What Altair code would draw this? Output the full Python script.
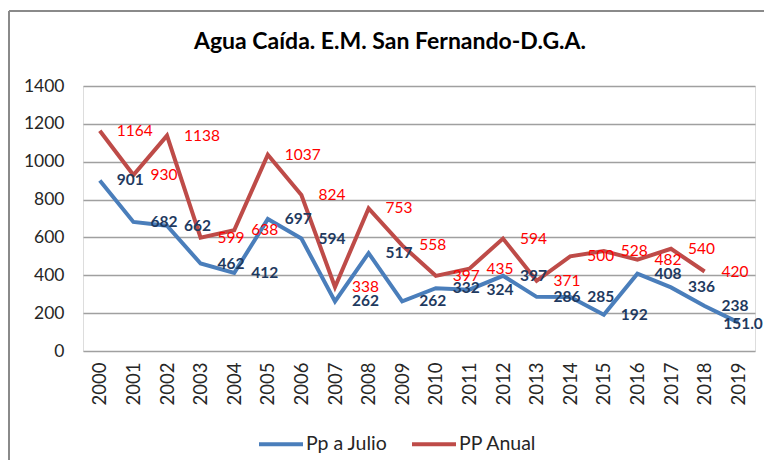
import altair as alt
import pandas as pd

# ---- data ----
years = list(range(2000, 2020))
pp_julio = [901, 682, 662, 462, 412, 697, 594, 262, 517, 262,
            332, 324, 397, 286, 285, 192, 408, 336, 238, 151.0]
pp_julio_labels = ["901", "682", "662", "462", "412", "697", "594", "262", "517", "262",
                   "332", "324", "397", "286", "285", "192", "408", "336", "238", "151.0"]
anual_years = list(range(2000, 2019))
pp_anual = [1164, 930, 1138, 599, 638, 1037, 824, 338, 753, 558,
            397, 435, 594, 371, 500, 528, 482, 540, 420]
series_names = ["Pp a Julio", "PP Anual"]
series_colors = ["#4A7EBB", "#BE4B48"]
y_ticks = [0, 200, 400, 600, 800, 1000, 1200, 1400]
title_text = "Agua Caída. E.M. San Fernando-D.G.A."

julio_df = pd.DataFrame({"year": years, "value": pp_julio, "label": pp_julio_labels,
                         "serie": series_names[0]})
anual_df = pd.DataFrame({"year": anual_years, "value": pp_anual,
                         "label": [str(v) for v in pp_anual], "serie": series_names[1]})
lines_df = pd.concat([julio_df, anual_df], ignore_index=True)
lines_df["order"] = lines_df["serie"].map({s: i for i, s in enumerate(series_names)})

FONT = "Lato"

x_enc = alt.X(
    "year:Q",
    scale=alt.Scale(domain=[1999.5, 2019.5], nice=False, zero=False),
    axis=alt.Axis(values=years, tickCount=len(years), format="d", labelAngle=-90,
                  ticks=False, domain=False, grid=False, labelPadding=11,
                  labelFontSize=18.5, labelFont=FONT, labelColor="#262626",
                  labelOverlap=False, labelFlush=False),
    title=None,
)
y_enc = alt.Y(
    "value:Q",
    scale=alt.Scale(domain=[0, 1400], nice=False),
    axis=alt.Axis(values=y_ticks, tickCount=len(y_ticks), format="d", ticks=False,
                  domain=False, labelPadding=19, labelFontSize=17.5, labelFont=FONT,
                  labelColor="#262626", labelOverlap=False, labelFlush=False,
                  gridColor="#a0a0a0", gridWidth=1.3),
    title=None,
)

lines = alt.Chart(lines_df).mark_line(strokeWidth=4).encode(
    x=x_enc,
    y=y_enc,
    color=alt.Color(
        "serie:N",
        scale=alt.Scale(domain=series_names, range=series_colors),
        legend=alt.Legend(
            title=None, orient="none", direction="horizontal",
            legendX=174, legendY=334, symbolType="stroke", symbolSize=1936,
            symbolStrokeWidth=4, labelFontSize=19.5, labelFont=FONT,
            labelColor="#262626", labelOffset=1, columnPadding=16, padding=0,
        ),
    ),
    detail="serie:N",
    order="order:Q",
)

red_labels = alt.Chart(anual_df).mark_text(
    align="left", baseline="middle", dx=17, font=FONT, fontSize=15.5, color="#FF0000"
).encode(x="year:Q", y="value:Q", text="label:N")

blue_labels = alt.Chart(julio_df).transform_filter(
    alt.datum.year < years[-1]
).mark_text(
    align="left", baseline="middle", dx=17, font=FONT, fontSize=15.5,
    fontWeight="bold", color="#1F3A60"
).encode(x="year:Q", y="value:Q", text="label:N")

blue_last = alt.Chart(julio_df).transform_filter(
    alt.datum.year == years[-1]
).mark_text(
    align="left", baseline="middle", dx=-15, dy=2, font=FONT, fontSize=15.5,
    fontWeight="bold", color="#1F3A60"
).encode(x="year:Q", y="value:Q", text="label:N")

frame_top = alt.Chart(alt.Data(values=[{}])).mark_rule(color="#8a8a8a", strokeWidth=2).encode(
    x=alt.value(-74), x2=alt.value(720), y=alt.value(-75)
)
frame_left = alt.Chart(alt.Data(values=[{}])).mark_rule(color="#8a8a8a", strokeWidth=2).encode(
    x=alt.value(-74), y=alt.value(-75), y2=alt.value(400)
)

chart = alt.layer(frame_top, frame_left, lines, red_labels, blue_labels, blue_last).properties(
    width=672,
    height=265,
    title=alt.TitleParams(title_text, font=FONT, fontSize=23, fontWeight="bold",
                          color="#000000", anchor="middle", frame="group",
                          baseline="alphabetic", dx=-29, offset=0, dy=62),
    autosize=alt.AutoSizeParams(type="none"),
    padding={"left": 75, "top": 78, "right": 9, "bottom": 109},
).configure_view(stroke=None).configure(background="#ffffff")

chart.save("out.html", embed_options={"renderer": "svg", "actions": False})
